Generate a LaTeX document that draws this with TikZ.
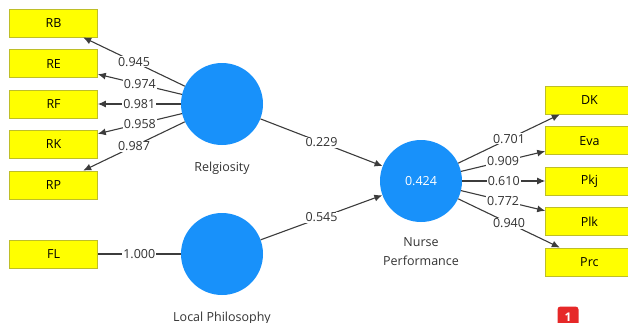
\documentclass[tikz,border=0pt]{standalone}
\usepackage{fontspec}
\setmainfont{Open Sans}
\usepackage{tikz}
\usetikzlibrary{positioning, arrows.meta}
\definecolor{boxyellow}{RGB}{255,255,0}
\definecolor{boxborder}{RGB}{190,190,40}
\definecolor{latentblue}{RGB}{24,145,250}
\definecolor{pathgray}{RGB}{60,60,60}
\definecolor{badgered}{RGB}{230,40,40}

\begin{document}
\begin{tikzpicture}[
        x = 1pt, y = 1pt,
        font = \fontsize{12.5}{15}\selectfont,
        Indicator/.style = {rectangle, draw = boxborder, fill = boxyellow, minimum width = 88pt, minimum height = 28pt, inner sep = 0},
        % 
        Construct/.style = {circle, fill = latentblue, minimum size = 82pt, inner sep = 0, text = white},
        % 
        Caption/.style = {inner sep = 0, text = black!80, align = center},
        % 
        Path/.style = {draw = pathgray, line width = 1.1pt, -{Latex[length = 8pt, width = 7pt]}},
        % 
        Value/.style = {fill = white, inner sep = 1pt, text = black!80},
    ]
        \useasboundingbox (0,0) rectangle (628,-322);

        % Constructs
        \node[Construct] (Relgiosity) at (222,-104) {};
        \node[Construct] (LocalPhil) at (222,-254) {};
        \node[Construct] (Nurse) at (421,-181) {0.424};

        \node[Caption] (RelgiosityText) [below = 17pt of Relgiosity] {Relgiosity};
        \node[Caption] (LocalPhilText) [below = 17pt of LocalPhil] {Local Philosophy};
        \node[Caption] (NurseText) [below = 15pt of Nurse] {Nurse\\[4pt]Performance};

        % Religiosity indicators
        \node[Indicator] (RF) [left = 83pt of Relgiosity] {RF};
        \node[Indicator] (RE) [above = 12pt of RF] {RE};
        \node[Indicator] (RB) [above = 12pt of RE] {RB};
        \node[Indicator] (RK) [below = 12pt of RF] {RK};
        \node[Indicator] (RP) [below = 12pt of RK] {RP};

        % Local Philosophy indicator
        \node[Indicator] (FL) [left = 83pt of LocalPhil] {FL};

        % Nurse Performance indicators
        \node[Indicator] (Pkj) [right = 83pt of Nurse] {Pkj};
        \node[Indicator] (Eva) [above = 12pt of Pkj] {Eva};
        \node[Indicator] (DK) [above = 12pt of Eva] {DK};
        \node[Indicator] (Plk) [below = 12pt of Pkj] {Plk};
        \node[Indicator] (Prc) [below = 12pt of Plk] {Prc};

        % Badge
        \node[fill = badgered, rounded corners = 3pt, minimum size = 21pt, inner sep = 0, text = white, font = \fontsize{12}{14}\bfseries] (Badge) at (568,-317) {1};

        % Arrows religiosity
        \draw[Path] (Relgiosity) to node[Value]{0.945} (RB);
        \draw[Path] (Relgiosity) to node[Value]{0.974} (RE);
        \draw[Path] (Relgiosity) to node[Value]{0.981} (RF);
        \draw[Path] (Relgiosity) to node[Value]{0.958} (RK);
        \draw[Path] (Relgiosity) to node[Value]{0.987} (RP);

        % Arrow local philosophy
        \draw[Path, -] (LocalPhil) to node[Value]{1.000} (FL);

        % Structural paths
        \draw[Path] (Relgiosity) to node[Value]{0.229} (Nurse);
        \draw[Path] (LocalPhil) to node[Value]{0.545} (Nurse);

        % Arrows nurse performance
        \draw[Path] (Nurse) to node[Value]{0.701} (DK);
        \draw[Path] (Nurse) to node[Value]{0.909} (Eva);
        \draw[Path] (Nurse) to node[Value]{0.610} (Pkj);
        \draw[Path] (Nurse) to node[Value]{0.772} (Plk);
        \draw[Path] (Nurse) to node[Value]{0.940} (Prc);

    \end{tikzpicture}
\end{document}
